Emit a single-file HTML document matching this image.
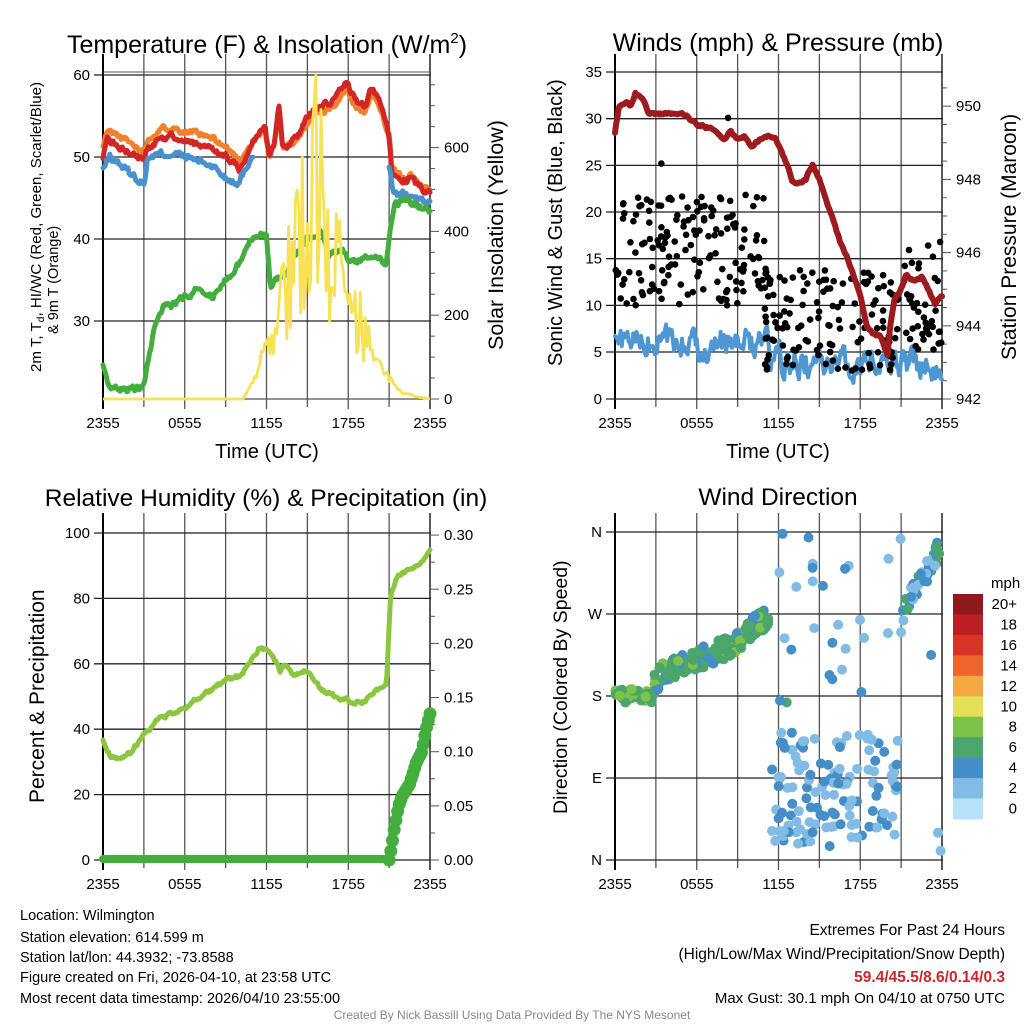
<!DOCTYPE html>
<html><head><meta charset="utf-8">
<style>
html,body{margin:0;padding:0;background:#fff;}
body{width:1024px;height:1024px;overflow:hidden;font-family:"Liberation Sans",Arial,sans-serif;}
svg text{font-family:"Liberation Sans",Arial,sans-serif;fill:#000;}
</style></head>
<body>
<svg id="s" width="1024" height="1024" viewBox="0 0 1024 1024" xmlns="http://www.w3.org/2000/svg">
<rect width="1024" height="1024" fill="#fff"/>
<g id="grid"></g>
<g id="data"></g>
<g id="axes"></g>
<text x="267" y="53" font-size="25" text-anchor="middle">Temperature (F) &amp; Insolation (W/m<tspan dy="-10" font-size="15">2</tspan><tspan dy="10">)</tspan></text>
<text x="778" y="51" font-size="25" text-anchor="middle">Winds (mph) &amp; Pressure (mb)</text>
<text x="266" y="506" font-size="24.5" text-anchor="middle">Relative Humidity (%) &amp; Precipitation (in)</text>
<text x="778" y="505" font-size="24.5" text-anchor="middle">Wind Direction</text>
<text x="267" y="458" font-size="20" text-anchor="middle">Time (UTC)</text>
<text x="778" y="458" font-size="20" text-anchor="middle">Time (UTC)</text>
<text transform="translate(41,372) rotate(-90)" font-size="14.5" textLength="290" lengthAdjust="spacingAndGlyphs">2m T, T<tspan dy="3" font-size="10">d</tspan><tspan dy="-3">, HI/WC (Red, Green, Scarlet/Blue)</tspan></text>
<text transform="translate(58,334) rotate(-90)" font-size="14.5">&amp; 9m T (Orange)</text>
<text transform="translate(503,350) rotate(-90)" font-size="21.5">Solar Insolation (Yellow)</text>
<text transform="translate(562,366) rotate(-90)" font-size="20">Sonic Wind &amp; Gust (Blue, Black)</text>
<text transform="translate(1016,360) rotate(-90)" font-size="21">Station Pressure (Maroon)</text>
<text transform="translate(44,803) rotate(-90)" font-size="21">Percent &amp; Precipitation</text>
<text transform="translate(567,814) rotate(-90)" font-size="19.5">Direction (Colored By Speed)</text>
<g id="cbar"></g>
<text x="991" y="588" font-size="15">mph</text>
<g font-size="14.5">
<text x="20" y="920">Location: Wilmington</text>
<text x="20" y="942">Station elevation: 614.599 m</text>
<text x="20" y="962">Station lat/lon: 44.3932; -73.8588</text>
<text x="20" y="982">Figure created on Fri, 2026-04-10, at 23:58 UTC</text>
<text x="20" y="1003">Most recent data timestamp: 2026/04/10 23:55:00</text>
<text x="1005" y="935" text-anchor="end" font-size="15.5">Extremes For Past 24 Hours</text>
<text x="1005" y="959" text-anchor="end" font-size="15.5">(High/Low/Max Wind/Precipitation/Snow Depth)</text>
<text x="1005" y="982" text-anchor="end" font-size="15.5" font-weight="bold" style="fill:#c8282d">59.4/45.5/8.6/0.14/0.3</text>
<text x="1005" y="1003" text-anchor="end" font-size="15">Max Gust: 30.1 mph On 04/10 at 0750 UTC</text>
</g>
<text x="512" y="1019" text-anchor="middle" font-size="12" style="fill:#888">Created By Nick Bassill Using Data Provided By The NYS Mesonet</text>
</svg>
<script>
(function(){
var NS="http://www.w3.org/2000/svg";
function el(p,t,a,txt){var e=document.createElementNS(NS,t);for(var k in a)e.setAttribute(k,a[k]);if(txt!==undefined)e.textContent=txt;document.getElementById(p).appendChild(e);return e;}
var seed=12345;function rnd(){seed=(seed*1103515245+12345)%2147483648;return seed/2147483648;}
function interp(kp,t){for(var i=0;i<kp.length-1;i++){if(t>=kp[i][0]&&t<=kp[i+1][0]){var f=(t-kp[i][0])/(kp[i+1][0]-kp[i][0]);return kp[i][1]+f*(kp[i+1][1]-kp[i][1]);}}return kp[kp.length-1][1];}
function panel(x0,y0,y1,hlines,leftLabels,rightTicks,xlabels){
 var x1=x0+327;
 for(var i=0;i<=8;i++){var x=x0+i*327/8;el("grid","line",{x1:x,y1:y0-9,x2:x,y2:y1+(i%2==0?10:8),stroke:(i==0||i==8)?"#000":"#555","stroke-width":(i==0)?2:1.3});}
 hlines.forEach(function(h){el("grid","line",{x1:x0-9,y1:h[0],x2:x1+1,y2:h[0],stroke:"#222","stroke-width":1.3});el("axes","text",{x:x0-13,y:h[0]+5,"font-size":15,"text-anchor":"end"},h[1]);});
 rightTicks.forEach(function(r){el("grid","line",{x1:x1,y1:r[0],x2:x1+(r[1]!==null?9:5),y2:r[0],stroke:"#555","stroke-width":1});if(r[1]!==null)el("axes","text",{x:x1+14,y:r[0]+5,"font-size":15},r[1]);});
 if(xlabels){["2355","0555","1155","1755","2355"].forEach(function(l,i){el("axes","text",{x:x0+i*327/4,y:y1+29,"font-size":15,"text-anchor":"middle"},l);});}
}
var rt1=[];for(var v=0;v<=775;v+=50){rt1.push([399-v*0.419,(v%200==0&&v<=600)?String(v):null]);}
panel(103,63,399,[[75,"60"],[157,"50"],[239,"40"],[321,"30"]],null,rt1,true);
el("grid","line",{x1:103,y1:72,x2:430,y2:72,stroke:"#555","stroke-width":1});
el("grid","line",{x1:103,y1:399,x2:430,y2:399,stroke:"#555","stroke-width":1.3});
var rt2=[];for(var v=942;v<=950.9;v+=0.5){rt2.push([399-(v-942)*36.6,(Math.abs(v-Math.round(v))<0.01&&Math.round(v)%2==0)?String(Math.round(v)):null]);}
panel(615,63,399,[[72,"35"],[118.7,"30"],[165.4,"25"],[212,"20"],[258.7,"15"],[305.4,"10"],[352,"5"],[399,"0"]],null,rt2,true);
var rt3=[];for(var v=0;v<=0.301;v+=0.025){var lab=(Math.round(v*1000)%50==0)?v.toFixed(2):null;rt3.push([860-v*1083,lab]);}
panel(103,522,860,[[533,"100"],[598.4,"80"],[663.8,"60"],[729.2,"40"],[794.6,"20"],[860,"0"]],null,rt3,true);
panel(615,522,860,[[532,"N"],[614,"W"],[696,"S"],[778,"E"],[860,"N"]],null,[],true);

function X(x0,t){return x0+t/24*327;}
function series(x0,kp,t0,t1,f,noise,col,w,step,seedv){seed=seedv;var pts=[],n=0;for(var t=t0;t<=t1+1e-6;t+=step){n=n*0.6+(rnd()-0.5)*noise;pts.push(X(x0,t).toFixed(1)+","+f(interp(kp,t)+n).toFixed(1));}
 el("data","polyline",{points:pts.join(" "),fill:"none",stroke:col,"stroke-width":w,"stroke-linejoin":"round","stroke-linecap":"round"});}
var fT=function(v){return 75+(60-v)*8.2;};
var red=[[0,50],[0.3,52],[1,51.5],[2,50.5],[3,49.5],[3.3,51],[4,52],[5,52.5],[6,52],[7,51.5],[8,51],[9,50],[10,48.5],[11,52],[11.9,53.5],[12.2,50],[12.6,52],[12.9,56],[13.2,51],[14,52],[14.5,53],[15,55],[15.5,56],[16,56],[17,57],[17.8,59.2],[18.5,57],[19.2,56],[19.7,58.5],[20.3,57],[20.8,54],[21,52],[21.2,48],[22,47],[22.5,47.5],[23,46.5],[24,45.5]];
var ora=red.map(function(p){return [p[0],p[0]<11?p[1]+1.2:(p[0]<15?p[1]-0.2:(p[0]<21?p[1]-0.7:p[1]+0.4))];});
series(103,ora,0,24,fT,0.6,"#f2812d",5,1/12,11);
series(103,red,0,24,fT,0.6,"#d22526",5,1/12,12);
var blue=[[0,48.5],[0.5,50],[1,49.5],[2,48],[3,46.8],[3.3,50],[5,50.5],[6,50],[7,49.5],[8,49],[9,47.5],[10,47],[11,50.5]];
series(103,blue,0,11,fT,0.8,"#4a90cc",5,1/12,13);
series(103,[[21,49],[21.3,45.5],[22,45.5],[23,44.8],[24,44.3]],21,24,fT,0.8,"#4a90cc",5,1/12,14);
var green=[[0,24.5],[0.5,22],[2,21.5],[3,22],[3.3,25],[3.8,29.5],[4.5,32],[5,31.5],[6,33],[7,34],[8,33],[9,35],[10,37],[11,40.5],[12,40.5],[12.3,34],[13,35.5],[13.5,36],[14,38],[15,40],[16,41],[16.5,38],[17.5,39],[18,37.5],[19,37.5],[20,37.5],[20.8,37],[21.1,42],[21.4,44],[22,44.8],[23,44],[24,43.5]];
series(103,green,0,24,fT,0.7,"#43ad3e",5,1/12,15);
seed=77;var ip=[];for(var t=0;t<=24.001;t+=1/8){var base=interp([[0,0],[10.3,0],[11,40],[11.5,80],[12,150],[13,300],[14,450],[15,600],[15.6,700],[16.5,550],[17,450],[18,250],[19,220],[19.5,150],[20,90],[21,50],[22,15],[23,5],[24,0]],t);var v=base;if(t>11.8&&t<19.5){v=base*(0.35+rnd()*0.85);if(Math.abs(t-15.6)<0.07)v=775;}else if(t>10.3){v=base*(0.8+rnd()*0.4);}ip.push(X(103,t).toFixed(1)+","+(399-Math.min(v,775)*0.419).toFixed(1));}
el("data","polyline",{points:ip.join(" "),fill:"none",stroke:"#f7e257","stroke-width":2.8,"stroke-linejoin":"round"});
var fW=function(v){return 399-v*9.34;};
series(615,[[0,6],[11,6],[11.5,4],[24,3.8]],0,24,fW,2.6,"#4f97d3",4,1/12,21);
seed=31;for(var i=0;i<330;i++){var t=rnd()*24,g;if(t<11)g=10+rnd()*12;else if(t<21)g=3+rnd()*11;else g=5+rnd()*12;if(i==5){t=8.3;g=30.1;}if(i==6){t=3.4;g=25.2;}el("data","circle",{cx:X(615,t).toFixed(1),cy:fW(g).toFixed(1),r:3.3,fill:"#000"});}
var fP=function(v){return 399-(v-942)*36.6;};
var pr=[[0,949.3],[0.3,950],[0.8,950.1],[1.2,950.0],[1.5,950.4],[2,950.2],[2.5,949.8],[5,949.8],[6,949.5],[7,949.4],[8,949.1],[8.5,949.3],[9,949.1],[9.5,949.2],[10,948.9],[11,949.2],[11.8,949.1],[12.5,948.5],[13,948],[13.5,947.9],[14,948],[14.5,948.4],[15,948],[15.5,947.4],[16,946.9],[16.5,946.3],[17,945.9],[17.5,945.4],[18,944.8],[18.5,944.0],[19,943.8],[19.5,943.7],[20,943.2],[20.2,944],[20.5,944.7],[21,945.0],[21.4,945.4],[22,945.2],[22.5,945.3],[23,945.0],[23.5,944.6],[24,944.8]];
series(615,pr,0,24,fP,0.06,"#9b1b1e",6,1/12,41);
var fR=function(v){return 860-v*3.27;};
var rh=[[0,37],[0.5,32],[1,31],[2,33],[3,38],[4,43],[5,45],[6,46],[7,50],[8,52],[9,55],[10,56],[11,62],[11.5,65],[12,64],[12.5,62],[13,58],[13.5,60],[14,56],[15,58],[16,52],[17,50],[18,49],[19,48],[20,52],[20.8,53],[21.1,80],[21.5,86],[22,88],[23,90],[24,95]];
series(103,rh,0,24,fR,1.0,"#8cc63f",5,1/12,51);
el("data","line",{x1:103,y1:859,x2:X(103,21.0),y2:859,stroke:"#44ae3c","stroke-width":8,"stroke-linecap":"round"});
var fPr=function(v){return 860-v*1083;};
for(var t=21;t<=24.001;t+=1/8){var v=interp([[21,0],[21.15,0.01],[21.4,0.03],[21.7,0.05],[22,0.06],[22.5,0.07],[23,0.09],[23.4,0.1],[23.7,0.12],[24,0.135]],t);el("data","circle",{cx:X(103,t).toFixed(1),cy:fPr(v).toFixed(1),r:6.5,fill:"#44ae3c"});}
var cols=["#b6e2f7","#82bce4","#468ec8","#4aa66a","#7dc24a","#e4df56","#f5a843","#ee642a","#da3428","#bd1e24","#8f1a1c"];
var fD=function(d){return 860-d*(328/360);};
seed=61;
function dot(t,d,s){el("data","circle",{cx:X(615,t).toFixed(1),cy:fD(d).toFixed(1),r:5,fill:cols[Math.max(0,Math.min(10,s))]});}
for(var i=0;i<220;i++){var t=rnd()*11.3,d;if(t<2.8)d=172+rnd()*16;else d=interp([[2.8,190],[3.5,205],[6,220],[9,238],[10,255],[11.3,265]],t)+(rnd()-0.5)*24;var s=t<3?(rnd()<0.5?4:3):(rnd()<0.2?2:(rnd()<0.15?4:3));dot(t,d,s);}
for(var i=0;i<150;i++){var t=11.5+rnd()*9.5,d;var r=rnd();if(r<0.15)d=180+rnd()*175;else d=15+rnd()*125;dot(t,d,rnd()<0.6?1:2);}
for(var i=0;i<40;i++){var t=21+rnd()*2.9,d=interp([[21,270],[22,295],[23,320],[24,345]],t)+(rnd()-0.5)*25;dot(t,d,rnd()<0.3?3:(rnd()<0.5?1:2));}
dot(23.2,225,2);dot(23.7,30,1);dot(23.9,10,1);dot(21,250,1);dot(12.3,358,2);dot(14.2,354,2);dot(12.6,173,3);dot(12.1,175,2);
var labs=["20+","18","16","14","12","10","8","6","4","2","0"];
for(var i=0;i<11;i++){var y=594+i*225/11;el("cbar","rect",{x:953,y:y.toFixed(1),width:30,height:(225/11+0.5).toFixed(1),fill:cols[10-i]});el("cbar","text",{x:1017,y:(y+15).toFixed(1),"font-size":15,"text-anchor":"end"},labs[i]);}
})();
</script>
</body></html>
